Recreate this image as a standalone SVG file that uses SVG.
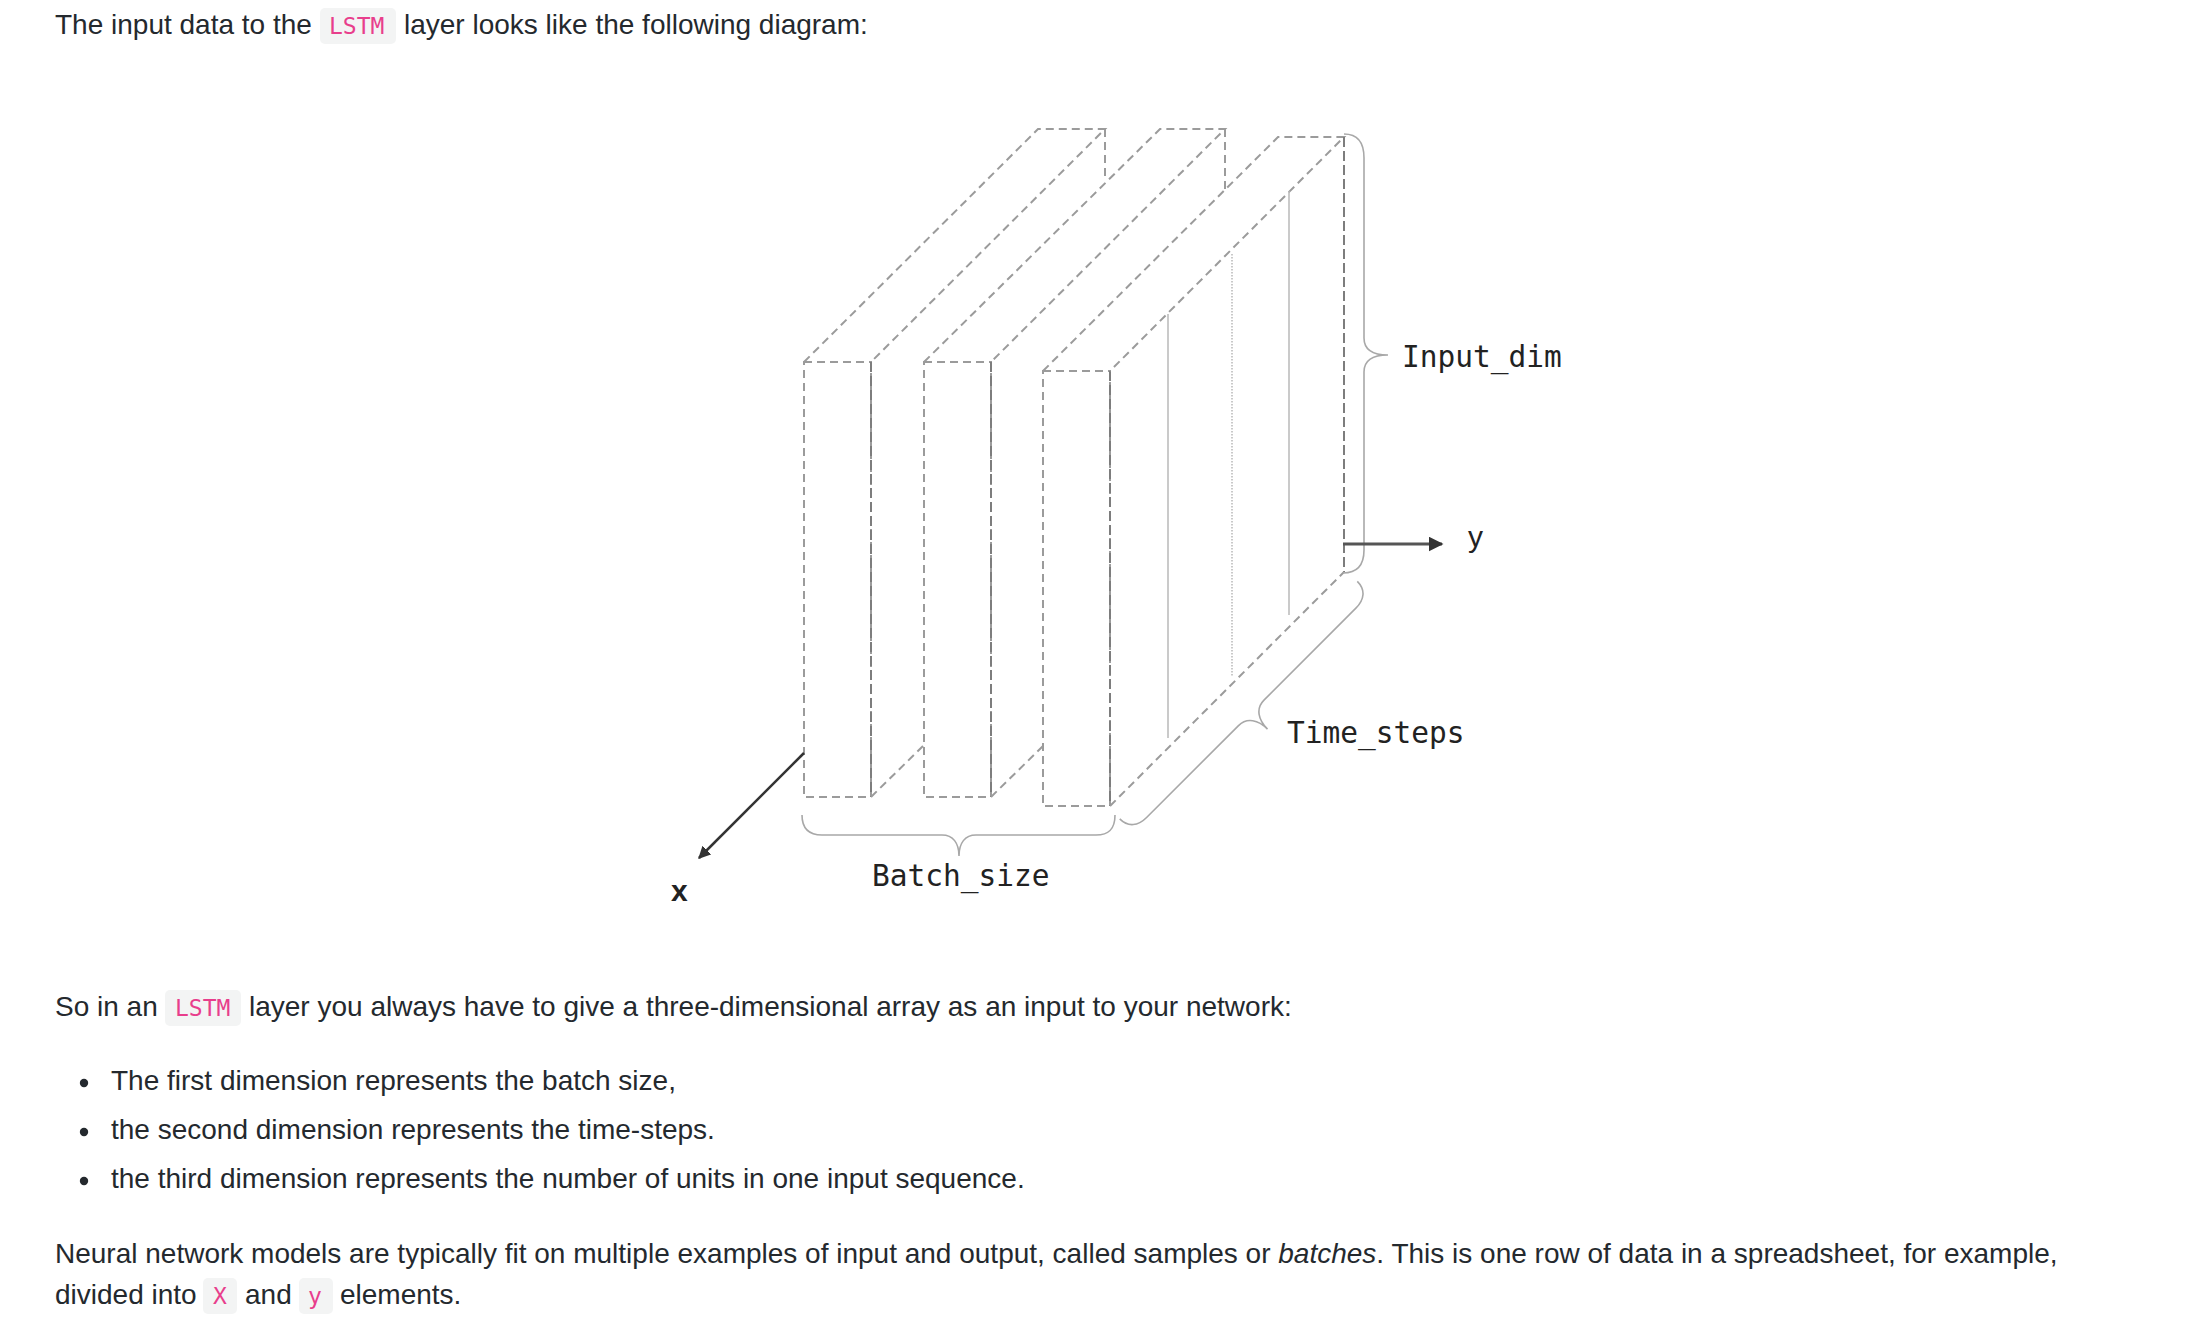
<svg xmlns="http://www.w3.org/2000/svg" width="2192" height="1336" viewBox="0 0 2192 1336">
<defs>
<style>
.body{font-family:"Liberation Sans",Arial,Helvetica,sans-serif;font-size:28px;fill:#24292e}
.code{font-family:"DejaVu Sans Mono","Liberation Mono",monospace;font-size:23px;fill:#e83e8c}
.codebg{fill:#f3f4f4}
.dash{stroke:#9b9b9b;stroke-width:2;stroke-dasharray:8 5;fill:none}
.dashd{stroke:#7d7d7d;stroke-width:2;stroke-dasharray:10 4;fill:none}
.solid{stroke:#b8b8b8;stroke-width:1.5;fill:none}
.dotl{stroke:#b8b8b8;stroke-width:1.5;stroke-dasharray:1.5 1.5;fill:none}
.brace{stroke:#a8a8a8;stroke-width:1.6;fill:none}
.lbl{font-family:"DejaVu Sans Mono","Liberation Mono",monospace;font-size:29.5px;fill:#222}
.axl{font-family:"Liberation Sans",Arial,sans-serif;font-size:30px;fill:#222}
</style>
<marker id="ah" viewBox="0 0 10 10" refX="9" refY="5" markerWidth="5" markerHeight="5" orient="auto" markerUnits="strokeWidth">
<path d="M0,0 L10,5 L0,10 z" fill="#333"/>
</marker>
</defs>
<rect width="2192" height="1336" fill="#ffffff"/>

<g id="intro">
<text class="body" x="55" y="34">The input data to the</text>
<rect class="codebg" x="320" y="8" width="76" height="36" rx="5"/>
<text class="code" x="329" y="34">LSTM</text>
<text class="body" x="404" y="34">layer looks like the following diagram:</text>
</g>

<g id="box1">
<rect class="dash" x="804" y="362" width="67" height="435"/>
<line class="dashd" x1="871" y1="362" x2="871" y2="797"/>
<polyline class="dash" points="804,362 1038,129 1105,129 871,362"/>
<line class="dash" x1="1105" y1="129" x2="1105" y2="181"/>
<line class="dash" x1="871" y1="797" x2="923" y2="746"/>
</g>

<g id="box2">
<rect class="dash" x="924" y="362" width="67" height="435"/>
<line class="dashd" x1="991" y1="362" x2="991" y2="797"/>
<polyline class="dash" points="924,362 1160,129 1225,129 991,362"/>
<line class="dash" x1="1225" y1="129" x2="1225" y2="190"/>
<line class="dash" x1="991" y1="797" x2="1043" y2="746"/>
</g>

<g id="box3">
<rect class="dash" x="1043" y="371" width="67" height="435"/>
<line class="dashd" x1="1110" y1="371" x2="1110" y2="806"/>
<polyline class="dash" points="1043,371 1278,137 1344,137 1110,371"/>
<line class="dashd" x1="1344" y1="137" x2="1344" y2="572"/>
<line class="dash" x1="1110" y1="806" x2="1344" y2="572"/>
<line class="solid" x1="1168" y1="314" x2="1168" y2="738"/>
<line class="dotl" x1="1232" y1="254" x2="1232" y2="677"/>
<line class="solid" x1="1289" y1="191" x2="1289" y2="615"/>
</g>

<g id="brace-input">
<path class="brace" d="M1344,134 C1358,134 1364,142 1364,158 L1364,338 C1364,349 1372,355 1388,355 C1372,355 1364,361 1364,372 L1364,550 C1364,565 1358,573 1343,573"/>
<text class="lbl" x="1402" y="367">Input_dim</text>
</g>

<g id="brace-time">
<path class="brace" transform="matrix(-0.7071,0.7071,0.7071,0.7071,1346,570)" d="M0,16 C0,28 8,34 20,34 L150,34 C162,34 168,44 168,57 C168,44 174,34 186,34 L316,34 C328,34 336,28 336,16"/>
<text class="lbl" x="1287" y="743">Time_steps</text>
</g>

<g id="brace-batch">
<path class="brace" d="M802,815 C802,829 809,835 822,835 L942,835 C953,835 959,843 959,856 C959,843 965,835 976,835 L1096,835 C1109,835 1115,829 1115,815"/>
<text class="lbl" x="872" y="886">Batch_size</text>
</g>

<g id="connectors">
<line x1="804" y1="753" x2="699" y2="858" stroke="#333" stroke-width="2.5" marker-end="url(#ah)"/>
<line x1="1343" y1="544" x2="1442" y2="544" stroke="#555" stroke-width="3" marker-end="url(#ah)"/>
</g>

<g id="axis-labels">
<text class="axl" x="671" y="901" font-weight="bold" font-size="28">x</text>
<text class="axl" x="1468" y="547">y</text>
</g>

<g id="explain">
<text class="body" x="55" y="1016">So in an</text>
<rect class="codebg" x="165" y="990" width="76" height="36" rx="5"/>
<text class="code" x="175" y="1016">LSTM</text>
<text class="body" x="249" y="1016">layer you always have to give a three-dimensional array as an input to your network:</text>
</g>

<g id="bullets">
<circle cx="84" cy="1083" r="4.2" fill="#24292e"/>
<text class="body" x="111" y="1090">The first dimension represents the batch size,</text>
<circle cx="84" cy="1132" r="4.2" fill="#24292e"/>
<text class="body" x="111" y="1139">the second dimension represents the time-steps.</text>
<circle cx="84" cy="1181" r="4.2" fill="#24292e"/>
<text class="body" x="111" y="1188">the third dimension represents the number of units in one input sequence.</text>
</g>

<g id="closing">
<text class="body" x="55" y="1263">Neural network models are typically fit on multiple examples of input and output, called samples or <tspan font-style="italic">batches</tspan>. This is one row of data in a spreadsheet, for example,</text>
<text class="body" x="55" y="1304">divided into</text>
<rect class="codebg" x="203" y="1278" width="34" height="36" rx="5"/>
<text class="code" x="213" y="1304">X</text>
<text class="body" x="245" y="1304">and</text>
<rect class="codebg" x="299" y="1278" width="34" height="36" rx="5"/>
<text class="code" x="308" y="1304">y</text>
<text class="body" x="340" y="1304">elements.</text>
</g>
</svg>
